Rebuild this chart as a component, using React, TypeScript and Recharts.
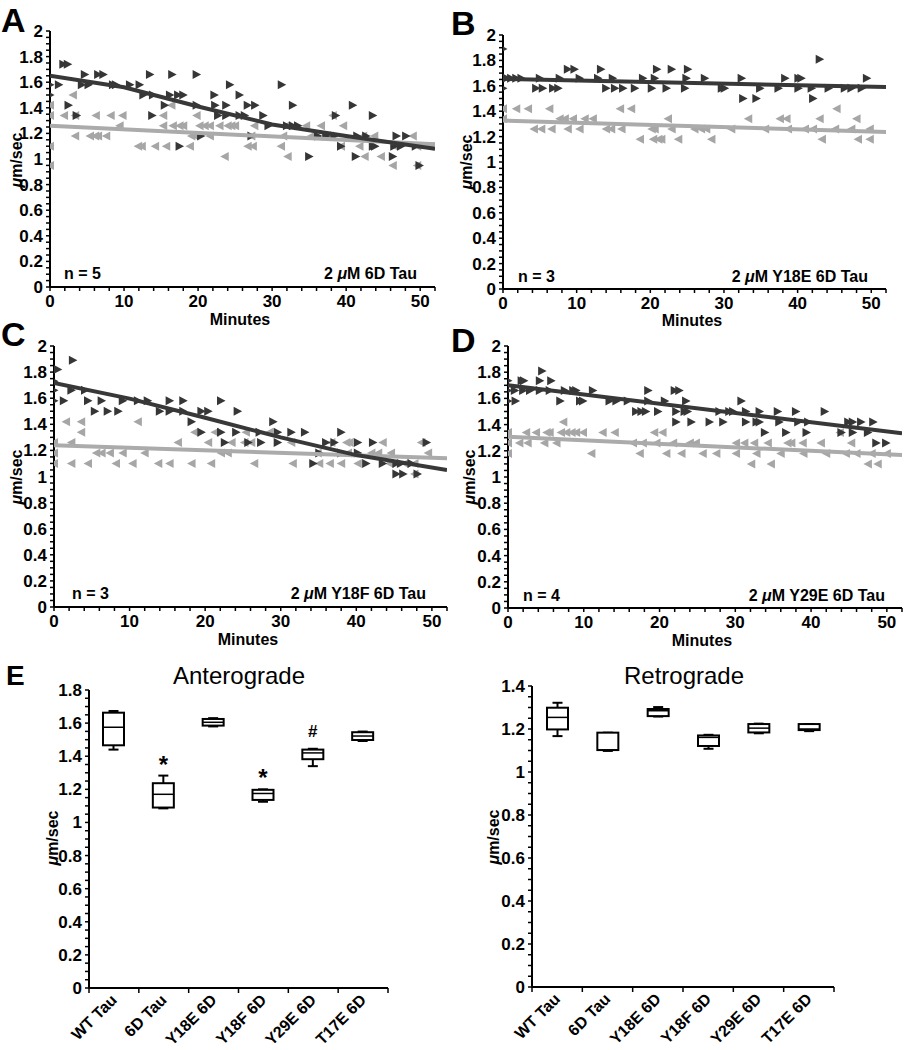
import { Bar, BarChart, LabelList, Scatter, ScatterChart, XAxis, YAxis } from "recharts";

const FONT = '"Liberation Sans", Arial, Helvetica, sans-serif';
const DARK = "#363636";
const LIGHT = "#a6a6a6";
const DARK_LINE = "#383838";
const LIGHT_LINE = "#ababab";

const aAntero = [
  [1.8, 1.74], [2.4, 1.74],
  [4.7, 1.66], [6.5, 1.66], [7.2, 1.66], [13.5, 1.66], [16.5, 1.66], [19.8, 1.66],
  [0, 1.58], [1.2, 1.58], [4.3, 1.58], [5.2, 1.58], [8.5, 1.58], [8.9, 1.58], [10.8, 1.58], [12.1, 1.58], [24.3, 1.58], [31.3, 1.58],
  [0, 1.5], [12.6, 1.5], [13.9, 1.5], [16.2, 1.5], [17.3, 1.5], [18, 1.5], [22.2, 1.5], [25.6, 1.5],
  [2.5, 1.42], [15.5, 1.42], [19.8, 1.42], [22.3, 1.42], [23.8, 1.42], [26.7, 1.42], [27.7, 1.42], [32.8, 1.42], [40.9, 1.42],
  [3.6, 1.34], [13.8, 1.34], [22.7, 1.34], [23.8, 1.34], [25.6, 1.34], [26.3, 1.34], [28.8, 1.34], [38.6, 1.34], [43.6, 1.34],
  [29.5, 1.26], [32, 1.26], [32.8, 1.26], [33.5, 1.26],
  [20.4, 1.18], [27.2, 1.18], [36.2, 1.18], [37.3, 1.18], [38.4, 1.18], [41.5, 1.18], [42.7, 1.18], [46.8, 1.18], [48.1, 1.18],
  [17.5, 1.1], [39.3, 1.1], [43.6, 1.1], [43.9, 1.1], [46.5, 1.1], [47.4, 1.1], [49.4, 1.1],
  [35, 1.02], [41.3, 1.02], [46.3, 1.02],
  [49.9, 0.95],
];
const aRetro = [
  [3.1, 1.5],
  [0, 1.42], [16.4, 1.42],
  [0, 1.34], [1.9, 1.34], [3.4, 1.34], [6.2, 1.34], [8.2, 1.34], [9.8, 1.34], [15.3, 1.34], [19.8, 1.34], [38.2, 1.34],
  [9.4, 1.26], [15.3, 1.26], [16.6, 1.26], [17.5, 1.26], [18, 1.26], [20.2, 1.26], [20.9, 1.26], [21.6, 1.26], [22.9, 1.26], [24, 1.26],
  [24.5, 1.26], [25, 1.26], [27.6, 1.26], [31.9, 1.26], [34.6, 1.26], [36.6, 1.26], [39.6, 1.26],
  [3.4, 1.18], [5.4, 1.18], [6.1, 1.18], [6.5, 1.18], [7.6, 1.18], [19.1, 1.18], [19.6, 1.18], [21.6, 1.18], [27.2, 1.18], [31.5, 1.18],
  [35.3, 1.18], [37.8, 1.18], [42.3, 1.18], [43.8, 1.18], [49, 1.18],
  [0, 1.1], [11.9, 1.1], [12.4, 1.1], [14.2, 1.1], [15.7, 1.1], [18.9, 1.1], [26.7, 1.1], [27.4, 1.1], [31.2, 1.1], [39.3, 1.1],
  [41.8, 1.1], [46.5, 1.1], [49.6, 1.1], [51.4, 1.1],
  [23.6, 1.02], [32.1, 1.02], [42.5, 1.02], [44.7, 1.02],
  [0, 0.95], [46.3, 0.95], [49.6, 0.95],
];
const aAnteroFit = [[0, 1.65], [10, 1.56], [20, 1.41], [30, 1.27], [40, 1.18], [52, 1.08]];
const aRetroFit = [[0, 1.26], [52, 1.115]];

const bAntero = [
  [0, 1.89], [43, 1.81],
  [8.8, 1.73], [9.7, 1.73], [13.3, 1.73], [20.9, 1.73], [22.9, 1.73], [25.1, 1.73],
  [0, 1.66], [0.5, 1.66], [1.1, 1.66], [1.8, 1.66], [2.5, 1.66], [5, 1.66], [7.7, 1.66], [10.4, 1.66], [12.9, 1.66], [14.9, 1.66],
  [19, 1.66], [20.6, 1.66], [24.9, 1.66], [27.4, 1.66], [32.4, 1.66], [38.3, 1.66], [40.1, 1.66], [40.5, 1.66], [49.4, 1.66],
  [0, 1.58], [4.5, 1.58], [5.4, 1.58], [6.8, 1.58], [7.5, 1.58], [14, 1.58], [15.2, 1.58], [16.3, 1.58], [17.9, 1.58], [20.2, 1.58],
  [22.2, 1.58], [24.7, 1.58], [29.7, 1.58], [30.1, 1.58], [34.9, 1.58], [37.4, 1.58], [40.1, 1.58], [41.9, 1.58], [44.2, 1.58],
  [46.4, 1.58], [47.3, 1.58], [48.7, 1.58],
  [32.6, 1.5], [34.4, 1.5], [42.1, 1.5],
];
const bRetro = [
  [0, 1.42], [1.8, 1.42], [3.4, 1.42], [6.3, 1.42], [15.9, 1.42], [17.4, 1.42], [45.3, 1.42],
  [0, 1.34], [7.7, 1.34], [8.4, 1.34], [9.5, 1.34], [11.1, 1.34], [12.2, 1.34], [22.4, 1.34], [33.3, 1.34], [37.6, 1.34], [38.5, 1.34],
  [43, 1.34], [48, 1.34],
  [4.2, 1.26], [5.2, 1.26], [6.6, 1.26], [8.8, 1.26], [10.4, 1.26], [14, 1.26], [14.7, 1.26], [16.1, 1.26], [20.2, 1.26], [20.6, 1.26],
  [22.9, 1.26], [26, 1.26], [26.9, 1.26], [27.6, 1.26], [31, 1.26], [35.6, 1.26], [38.7, 1.26], [41, 1.26], [42.1, 1.26], [45.1, 1.26],
  [47.3, 1.26], [49.8, 1.26],
  [18.6, 1.18], [20.4, 1.18], [21.1, 1.18], [21.5, 1.18], [23.8, 1.18], [28.3, 1.18], [43.3, 1.18], [48.2, 1.18], [49.8, 1.18],
];
const bAnteroFit = [[0, 1.655], [52, 1.59]];
const bRetroFit = [[0, 1.326], [52, 1.237]];

const cAntero = [
  [2.5, 1.89], [0.5, 1.82], [0, 1.73],
  [0, 1.66], [2.3, 1.66], [4.1, 1.66],
  [0, 1.58], [1.3, 1.58], [4.5, 1.58], [6.3, 1.58], [9.1, 1.58], [11.1, 1.58], [12.4, 1.58], [15.3, 1.58], [17.1, 1.58], [22.1, 1.58],
  [5.4, 1.5], [7.1, 1.5], [8.5, 1.5], [14, 1.5], [15.3, 1.5], [17.1, 1.5], [19.5, 1.5], [20.4, 1.5], [24.3, 1.5],
  [18.2, 1.42], [29, 1.42],
  [19.5, 1.34], [22.1, 1.34], [24.1, 1.34], [27.2, 1.34], [29.6, 1.34], [31.4, 1.34], [33.2, 1.34], [38, 1.34],
  [22.6, 1.26], [25.7, 1.26], [27.4, 1.26], [29.6, 1.26], [36, 1.26], [37.1, 1.26], [40.2, 1.26], [42.2, 1.26], [49.3, 1.26],
  [35.1, 1.18], [38, 1.18], [40.2, 1.18],
  [34.3, 1.1], [41.3, 1.1], [43.5, 1.1], [45.3, 1.1], [45.9, 1.1], [47.3, 1.1],
  [45.3, 1.02], [46.2, 1.02], [48.1, 1.02],
];
const cRetro = [
  [1.6, 1.42], [3.6, 1.42], [11.1, 1.42],
  [3.6, 1.34], [18.6, 1.34], [21.3, 1.34], [25.4, 1.34], [28.5, 1.34],
  [0, 1.26], [2.3, 1.26], [16.4, 1.26], [20.4, 1.26], [23.5, 1.26], [25.2, 1.26], [26.1, 1.26], [31.4, 1.26], [36.7, 1.26], [38.7, 1.26],
  [39.1, 1.26], [43.5, 1.26], [48.6, 1.26],
  [0, 1.18], [5.6, 1.18], [6.3, 1.18], [7.4, 1.18], [9.1, 1.18], [12, 1.18], [22.1, 1.18], [23, 1.18], [34.9, 1.18], [38.9, 1.18],
  [42, 1.18], [42.9, 1.18], [44.6, 1.18], [49.5, 1.18],
  [0, 1.1], [2.3, 1.1], [4.5, 1.1], [8.2, 1.1], [10.4, 1.1], [13.8, 1.1], [15.3, 1.1], [18.2, 1.1], [20.8, 1.1], [26.5, 1.1],
  [31.6, 1.1], [35.1, 1.1], [36.5, 1.1], [38, 1.1], [40.2, 1.1], [44.4, 1.1], [46.4, 1.1], [47.7, 1.1],
  [47.7, 1.02],
];
const cAnteroFit = [[0, 1.717], [10, 1.597], [20, 1.45], [30, 1.3], [40, 1.164], [52, 1.05]];
const cRetroFit = [[0, 1.24], [52, 1.139]];

const dAntero = [
  [4.5, 1.81],
  [0, 1.735], [1.8, 1.735], [2.1, 1.735], [4.2, 1.735], [5.7, 1.735],
  [0, 1.66], [0.9, 1.66], [2, 1.66], [2.9, 1.66], [4.2, 1.66], [5.5, 1.66], [7.5, 1.66], [8.6, 1.66], [9, 1.66], [11.2, 1.66],
  [18.5, 1.66], [22, 1.66], [22.6, 1.66],
  [0, 1.58], [1, 1.58], [6.9, 1.58], [9.5, 1.58], [9.9, 1.58], [13.4, 1.58], [14.3, 1.58], [15.8, 1.58], [18.5, 1.58], [20.7, 1.58],
  [23.5, 1.58], [30.8, 1.58],
  [16.9, 1.5], [17.6, 1.5], [18.2, 1.5], [19.8, 1.5], [22.2, 1.5], [23.3, 1.5], [23.7, 1.5], [27.9, 1.5], [29.2, 1.5], [29.7, 1.5],
  [31.4, 1.5], [33.2, 1.5], [35.6, 1.5], [38, 1.5], [41.8, 1.5],
  [22.2, 1.42], [24.2, 1.42], [26.6, 1.42], [28.4, 1.42], [31.4, 1.42], [32.8, 1.42], [33.2, 1.42], [35.8, 1.42], [38.3, 1.42],
  [39.6, 1.42], [44.9, 1.42], [45.5, 1.42], [46.6, 1.42], [48.2, 1.42],
  [33.9, 1.34], [36.7, 1.34], [39.4, 1.34], [44, 1.34], [45.5, 1.34], [47.5, 1.34],
  [48.6, 1.26], [49.9, 1.26],
];
const dRetro = [
  [7.3, 1.42],
  [0, 1.34], [2.4, 1.34], [3.7, 1.34], [5.1, 1.34], [5.5, 1.34], [7, 1.34], [7.7, 1.34], [8.4, 1.34], [9, 1.34], [9.9, 1.34],
  [12.5, 1.34], [14.1, 1.34], [19.3, 1.34], [20.4, 1.34], [43.8, 1.34],
  [0, 1.26], [1.5, 1.26], [2.6, 1.26], [4.8, 1.26], [6.4, 1.26], [16.5, 1.26], [17.8, 1.26], [19.6, 1.26], [21.8, 1.26], [24, 1.26],
  [24.8, 1.26], [30.1, 1.26], [31.2, 1.26], [32.5, 1.26], [34.3, 1.26], [36.9, 1.26], [37.4, 1.26], [38.9, 1.26], [41.3, 1.26], [45.3, 1.26],
  [0, 1.18], [11, 1.18], [17.4, 1.18], [20.9, 1.18], [22.9, 1.18], [25.7, 1.18], [27.5, 1.18], [30.1, 1.18], [32.8, 1.18], [36, 1.18],
  [39, 1.18], [42, 1.18], [44.6, 1.18], [46, 1.18], [48, 1.18], [50, 1.18],
  [32.1, 1.1], [34.7, 1.1], [47.5, 1.1], [48.8, 1.1],
];
const dAnteroFit = [[0, 1.7], [52, 1.333]];
const dRetroFit = [[0, 1.307], [52, 1.167]];

// panel E box plots
const categories = ["WT Tau", "6D Tau", "Y18E 6D", "Y18F 6D", "Y29E 6D", "T17E 6D"];
const anteroMin = [1.44, 1.085, 1.58, 1.125, 1.34, 1.492];
const anteroQ1 = [1.466, 1.09, 1.585, 1.136, 1.382, 1.498];
const anteroMed = [1.575, 1.17, 1.605, 1.175, 1.42, 1.522];
const anteroQ3 = [1.663, 1.237, 1.625, 1.197, 1.44, 1.545];
const anteroMax = [1.673, 1.283, 1.63, 1.2, 1.445, 1.549];
const anteroMark = ["", "*", "", "*", "#", ""];
const retroMin = [1.167, 1.098, 1.258, 1.108, 1.18, 1.19];
const retroQ1 = [1.198, 1.102, 1.26, 1.121, 1.184, 1.195];
const retroMed = [1.254, 1.102, 1.285, 1.161, 1.204, 1.2];
const retroQ3 = [1.299, 1.183, 1.293, 1.17, 1.223, 1.223];
const retroMax = [1.322, 1.183, 1.302, 1.173, 1.225, 1.223];

const speedTicks = [0, 0.2, 0.4, 0.6, 0.8, 1, 1.2, 1.4, 1.6, 1.8, 2];
const minuteTicks = [0, 10, 20, 30, 40, 50];

const minorTicks = (max: number, step: number) =>
  Array.from({ length: Math.round(max / step) + 1 }, (_, i) => Math.round(i * step * 1000) / 1000);

const AXIS = { stroke: "#000", strokeWidth: 2 };
const TICKLINE = { stroke: "#000", strokeWidth: 1.5 };

const toPoints = (arr: number[][]) => arr.map(([x, y]) => ({ x, y }));

function makeYTick(major: number[]) {
  return (p: any) => {
    const v = p.payload.value;
    if (!major.some((m) => Math.abs(m - v) < 1e-6)) return <g />;
    return (
      <text x={p.x} y={p.y} dy={6} textAnchor="end" fontFamily={FONT} fontWeight="bold" fontSize={17} fill="#000">
        {String(Math.round(v * 100) / 100)}
      </text>
    );
  };
}

function minuteTick(p: any) {
  const v = p.payload.value;
  if (!minuteTicks.includes(v)) return <g />;
  return (
    <text x={p.x} y={p.y} dy={13} textAnchor="middle" fontFamily={FONT} fontWeight="bold" fontSize={17} fill="#000">
      {v}
    </text>
  );
}

const rightTri = (p: any) => (
  <path d={`M${p.cx - 4},${p.cy - 4.5} L${p.cx + 4.5},${p.cy} L${p.cx - 4},${p.cy + 4.5} Z`} fill={DARK} />
);
const leftTri = (p: any) => (
  <path d={`M${p.cx + 4},${p.cy - 4.5} L${p.cx - 4.5},${p.cy} L${p.cx + 4},${p.cy + 4.5} Z`} fill={LIGHT} />
);
const noDot = () => <g />;

function ScatterPanel({ left, top, width, height, antero, retro, anteroFit, retroFit }: any) {
  return (
    <div style={{ position: "absolute", left, top }}>
      <ScatterChart width={width} height={height} margin={{ top: 10, right: 5, bottom: 0, left: 0 }}>
        <XAxis
          type="number"
          dataKey="x"
          domain={[0, 52]}
          ticks={minorTicks(52, 2)}
          interval={0}
          allowDataOverflow
          height={35}
          axisLine={AXIS}
          tickLine={TICKLINE}
          tickSize={4}
          tickMargin={3}
          tick={minuteTick}
        />
        <YAxis
          type="number"
          dataKey="y"
          domain={[0, 2]}
          ticks={minorTicks(2, 0.05)}
          interval={0}
          allowDataOverflow
          width={45}
          axisLine={AXIS}
          tickLine={TICKLINE}
          tickSize={4}
          tickMargin={3}
          tick={makeYTick(speedTicks)}
        />
        <Scatter data={toPoints(retro)} shape={leftTri} isAnimationActive={false} />
        <Scatter data={toPoints(antero)} shape={rightTri} isAnimationActive={false} />
        <Scatter
          data={toPoints(retroFit)}
          line={{ stroke: LIGHT_LINE, strokeWidth: 4 }}
          shape={noDot}
          isAnimationActive={false}
        />
        <Scatter
          data={toPoints(anteroFit)}
          line={{ stroke: DARK_LINE, strokeWidth: 4 }}
          shape={noDot}
          isAnimationActive={false}
        />
      </ScatterChart>
    </div>
  );
}

function BoxShape(p: any) {
  const { x, width, payload } = p;
  if (p.height == null || !payload) return <g />;
  const top = Math.min(p.y, p.y + p.height);
  const h = Math.abs(p.height);
  const { min, q1, med, q3, max } = payload;
  const span = max - min || 1;
  const py = (v: number) => top + ((max - v) / span) * h;
  const cx = x + width / 2;
  const cap = 5;
  return (
    <g stroke="#000" strokeWidth={2} fill="#fff">
      <line x1={cx} x2={cx} y1={py(max)} y2={py(q3)} />
      <line x1={cx} x2={cx} y1={py(q1)} y2={py(min)} />
      <line x1={cx - cap} x2={cx + cap} y1={py(max)} y2={py(max)} />
      <line x1={cx - cap} x2={cx + cap} y1={py(min)} y2={py(min)} />
      <rect x={x} y={py(q3)} width={width} height={Math.max(py(q1) - py(q3), 1)} />
      <line x1={x} x2={x + width} y1={py(med)} y2={py(med)} strokeWidth={1.5} />
    </g>
  );
}

function MarkLabel(p: any) {
  if (!p.value) return null;
  const star = p.value === "*";
  return (
    <text
      x={p.x + p.width / 2}
      y={p.y - (star ? 3 : 12)}
      textAnchor="middle"
      fontFamily={FONT}
      fontWeight="bold"
      fontSize={star ? 24 : 17}
      fill="#000"
    >
      {p.value}
    </text>
  );
}

function categoryTick(p: any) {
  const v = p.payload.value;
  if (Number.isInteger(v)) {
    return <line x1={p.x} x2={p.x} y1={p.y} y2={p.y + 5} stroke="#000" strokeWidth={1.5} />;
  }
  const name = categories[Math.floor(v)];
  const ax = p.x + 4;
  const ay = p.y + 13;
  return (
    <text
      x={ax}
      y={ay}
      textAnchor="end"
      transform={`rotate(-45, ${ax}, ${ay})`}
      fontFamily={FONT}
      fontWeight="bold"
      fontSize={16}
      fill="#000"
    >
      {name}
    </text>
  );
}

function BoxPanel({ left, top, width, height, rows, yMax }: any) {
  const majors = speedTicks.filter((t) => t <= yMax + 1e-6);
  return (
    <div style={{ position: "absolute", left, top }}>
      <BarChart width={width} height={height} data={rows} barSize={21} margin={{ top: 10, right: 5, bottom: 0, left: 0 }}>
        <XAxis
          type="number"
          dataKey="pos"
          domain={[0, 6]}
          ticks={minorTicks(6, 0.5)}
          interval={0}
          allowDataOverflow
          height={60}
          axisLine={AXIS}
          tickLine={false}
          tickSize={0}
          tickMargin={0}
          tick={categoryTick}
        />
        <YAxis
          type="number"
          domain={[0, yMax]}
          ticks={minorTicks(yMax, 0.05)}
          interval={0}
          allowDataOverflow
          width={45}
          axisLine={AXIS}
          tickLine={TICKLINE}
          tickSize={4}
          tickMargin={3}
          tick={makeYTick(majors)}
        />
        <Bar dataKey={(d: any) => [d.min, d.max]} shape={BoxShape} isAnimationActive={false}>
          <LabelList dataKey="mark" content={MarkLabel} />
        </Bar>
      </BarChart>
    </div>
  );
}

const anteroRows = categories.map((name, i) => ({
  name,
  pos: i + 0.5,
  min: anteroMin[i],
  q1: anteroQ1[i],
  med: anteroMed[i],
  q3: anteroQ3[i],
  max: anteroMax[i],
  mark: anteroMark[i],
}));
const retroRows = categories.map((name, i) => ({
  name,
  pos: i + 0.5,
  min: retroMin[i],
  q1: retroQ1[i],
  med: retroMed[i],
  q3: retroQ3[i],
  max: retroMax[i],
  mark: "",
}));

const bold = { fontFamily: FONT, fontWeight: "bold" as const, fill: "#000" };

function Mu({ children }: any) {
  return (
    <>
      <tspan fontStyle="italic">μ</tspan>
      {children}
    </>
  );
}

function YTitle({ x, y }: { x: number; y: number }) {
  return (
    <text x={x} y={y} {...bold} fontSize={16} textAnchor="middle" dominantBaseline="central" transform={`rotate(-90, ${x}, ${y})`}>
      <Mu>m/sec</Mu>
    </text>
  );
}

function PanelNotes({ nx, ny, n, rx, label, mx, my }: any) {
  return (
    <>
      <text x={nx} y={ny} {...bold} fontSize={16}>{`n = ${n}`}</text>
      <text x={rx} y={ny} {...bold} fontSize={16} textAnchor="end">
        {"2 "}
        <Mu>{`M ${label}`}</Mu>
      </text>
      <text x={mx} y={my} {...bold} fontSize={16} textAnchor="middle">Minutes</text>
    </>
  );
}

export default function App() {
  return (
    <div style={{ position: "absolute", left: 0, top: 0, width: 907, height: 1050, background: "#fff" }}>
      <ScatterPanel left={5} top={21} width={435} height={301} antero={aAntero} retro={aRetro} anteroFit={aAnteroFit} retroFit={aRetroFit} />
      <ScatterPanel left={458} top={25} width={433} height={299} antero={bAntero} retro={bRetro} anteroFit={bAnteroFit} retroFit={bRetroFit} />
      <ScatterPanel left={9} top={336} width={443} height={306} antero={cAntero} retro={cRetro} anteroFit={cAnteroFit} retroFit={cRetroFit} />
      <ScatterPanel left={463} top={336} width={444} height={307} antero={dAntero} retro={dRetro} anteroFit={dAnteroFit} retroFit={dRetroFit} />
      <BoxPanel left={44} top={680} width={349} height={368} rows={anteroRows} yMax={1.8} />
      <BoxPanel left={487} top={676} width={352} height={371} rows={retroRows} yMax={1.4} />
      <svg width={907} height={1050} style={{ position: "absolute", left: 0, top: 0, pointerEvents: "none" }}>
        <text x={1} y={32} {...bold} fontSize={34}>A</text>
        <text x={451} y={35} {...bold} fontSize={34}>B</text>
        <text x={1} y={346} {...bold} fontSize={34}>C</text>
        <text x={451} y={352} {...bold} fontSize={34}>D</text>
        <text x={6} y={685} {...bold} fontSize={28}>E</text>

        <PanelNotes nx={64} ny={279} n={5} rx={417} label="6D Tau" mx={240} my={325} />
        <PanelNotes nx={518} ny={282} n={3} rx={868} label="Y18E 6D Tau" mx={692} my={326} />
        <PanelNotes nx={72} ny={599} n={3} rx={426} label="Y18F 6D Tau" mx={248} my={645} />
        <PanelNotes nx={523} ny={601} n={4} rx={885} label="Y29E 6D Tau" mx={702} my={646} />

        <YTitle x={16} y={160} />
        <YTitle x={466} y={162} />
        <YTitle x={16} y={477} />
        <YTitle x={469} y={477} />
        <YTitle x={52} y={838} />
        <YTitle x={493} y={837} />

        <text x={239} y={684} fontFamily={FONT} fontSize={24} fill="#000" textAnchor="middle">Anterograde</text>
        <text x={684} y={684} fontFamily={FONT} fontSize={24} fill="#000" textAnchor="middle">Retrograde</text>
      </svg>
    </div>
  );
}
